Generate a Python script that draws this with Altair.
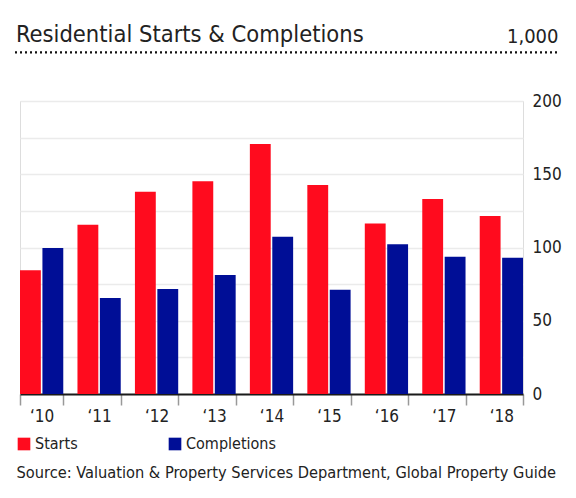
import altair as alt
import pandas as pd

# ---- data (thousands of units) ----
years = ["‘10", "‘11", "‘12", "‘13", "‘14", "‘15", "‘16", "‘17", "‘18"]
starts = [84.4, 115.5, 138.1, 145.2, 170.6, 142.7, 116.3, 133.1, 121.5]
completions = [99.7, 65.5, 71.7, 81.2, 107.4, 71.2, 102.2, 93.7, 93.0]
series = ["Starts", "Completions"]
colors = ["#ff0b1e", "#000e96"]
y_ticks = [0, 25, 50, 75, 100, 125, 150, 175, 200]

rows = []
for i, y in enumerate(years):
    rows.append({"year": y, "series": "Starts", "value": starts[i]})
    rows.append({"year": y, "series": "Completions", "value": completions[i]})
df = pd.DataFrame(rows)
deco_df = pd.DataFrame({"k": [0]})

FONT = "DejaVu Sans Condensed, Liberation Sans Narrow, DejaVu Sans"
W, H = 503, 293

xscale = alt.Scale(domain=years, paddingInner=0.247, paddingOuter=0)
yscale = alt.Scale(domain=[0, 200])

xaxis = alt.Axis(title="Source: Valuation & Property Services Department, Global Property Guide",
                 labelAngle=0, ticks=True, tickBand="extent", tickSize=11, tickWidth=1.5,
                 tickColor="#999999", domain=True, domainColor="#1a1a1a",
                 domainWidth=2, labelFontSize=17, labelColor="#222",
                 labelPadding=3, labelFont=FONT, grid=False,
                 titleFont=FONT, titleFontSize=16.25, titleFontWeight="normal",
                 titleColor="#222", titleAnchor="start", titleAlign="left",
                 titleBaseline="alphabetic", titleX=-4, titleY=83)
yaxis = alt.Axis(orient="right", values=y_ticks, ticks=False,
                 domain=False, grid=True, gridColor="#ebebeb", gridWidth=1.5,
                 labelExpr="datum.value % 50 == 0 ? datum.label : ''",
                 labelFontSize=17, labelColor="#222",
                 labelPadding=9, labelFont=FONT, title="1,000", titleAngle=0,
                 titleFont=FONT, titleFontSize=20, titleFontWeight="normal",
                 titleColor="#222", titleAlign="right", titleBaseline="alphabetic",
                 titleX=35, titleY=-59)

bars = alt.Chart(df).mark_bar().encode(
    x=alt.X("year:N", sort=years, scale=xscale, axis=xaxis),
    xOffset=alt.XOffset("series:N", sort=series, scale=alt.Scale(domain=series, paddingInner=0.07)),
    y=alt.Y("value:Q", scale=yscale, axis=yaxis),
    color=alt.Color("series:N", sort=series,
                    scale=alt.Scale(domain=series, range=colors),
                    legend=alt.Legend(title=None, orient="none", legendX=-4, legendY=335,
                                      direction="horizontal", symbolType="square",
                                      symbolSize=160, symbolStrokeWidth=0,
                                      labelFont=FONT, labelFontSize=16, labelColor="#222",
                                      labelOffset=3, columnPadding=89, padding=0)),
)

dots = alt.Chart(deco_df).mark_rule(color="#111", strokeWidth=2.2, strokeDash=[2, 3]).encode(
    x=alt.value(-5), x2=alt.value(540), y=alt.value(-48.7)
)

chart = alt.layer(bars, dots).properties(
    width=W, height=H,
    title=alt.TitleParams("Residential Starts & Completions", anchor="start", font=FONT,
                          fontSize=23.5, fontWeight="normal", color="#222", dx=2, dy=43,
                          baseline="alphabetic"),
    autosize=alt.AutoSizeParams(type="none"),
    padding={"left": 12, "top": 93, "right": 45, "bottom": 88},
).configure_view(strokeWidth=0).configure_axisX(grid=False).configure(font=FONT)

chart.save("out.html", embed_options={"renderer": "svg", "actions": False})
